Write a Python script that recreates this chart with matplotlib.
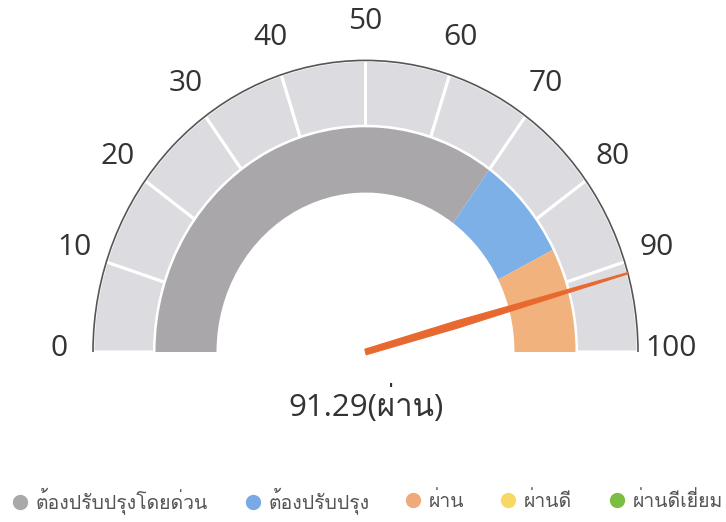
import numpy as np
import matplotlib
matplotlib.use("Agg")
import matplotlib.pyplot as plt
from matplotlib.patches import Wedge, Arc, Polygon
from matplotlib.lines import Line2D
from matplotlib import font_manager
from matplotlib.ft2font import FT2Font

# ---------------- data ----------------
scale_min, scale_max = 0, 100
tick_values = [0, 10, 20, 30, 40, 50, 60, 70, 80, 90, 100]
band_starts = [0, 70, 85]
band_ends = [70, 85, 100]
band_colors = ["#a9a7a9", "#7eb0e8", "#f2b27e"]
score = 91.29
score_label = "ผ่าน"
legend_labels = ["ต้องปรับปรุงโดยด่วน", "ต้องปรับปรุง", "ผ่าน", "ผ่านดี", "ผ่านดีเยี่ยม"]
legend_colors = ["#a9a9a9", "#78aae6", "#f0aa7a", "#f6d864", "#7cbd42"]

# layout (pixel x of each legend marker centre)
legend_marker_x_px = [20, 253, 413, 508, 617]

# ---------------- fonts ----------------
thai_font = None
for f in font_manager.fontManager.ttflist:
    try:
        cm = FT2Font(f.fname).get_charmap()
    except Exception:
        continue
    if 0x0E1C in cm and 0x0E48 in cm:
        thai_font = f.name
        break
families = ["Open Sans"] + ([thai_font] if thai_font else []) + ["DejaVu Sans"]
plt.rcParams["font.family"] = families

# ---------------- geometry ----------------
W, H, DPI = 726, 522, 100
cx_px, cy_px = 365.5, 352.0
yscale = 1.07
R_out, R_mid, R_in_out, R_in_in = 272.5, 212.0, 210.0, 149.0

def ang(v):
    return 180.0 - 180.0 * (v - scale_min) / (scale_max - scale_min)

fig = plt.figure(figsize=(W / DPI, H / DPI), dpi=DPI)
ax = fig.add_axes([0, 0, 1, 1])
ax.set_xlim(-cx_px, W - cx_px)
ax.set_ylim(-(H - cy_px) / yscale, cy_px / yscale)
ax.set_aspect("auto")
ax.axis("off")

# outer light segments
for a, b in zip(tick_values[:-1], tick_values[1:]):
    ax.add_patch(Wedge((0, 0), R_out, ang(b), ang(a), width=R_out - R_mid + 1,
                       facecolor="#dcdbdf", edgecolor="white", linewidth=2.2, zorder=2))
# outer edge
ax.add_patch(Arc((0, 0), 2 * R_out, 2 * R_out, theta1=0, theta2=180,
                 color="#555555", linewidth=1.2, zorder=3))

# inner coloured bands
for s, e, c in zip(band_starts, band_ends, band_colors):
    ax.add_patch(Wedge((0, 0), R_in_out, ang(e), ang(s), width=R_in_out - R_in_in,
                       facecolor=c, edgecolor="none", zorder=2))

# tick labels
R_lab = 306
for t in tick_values:
    th = np.radians(ang(t))
    ax.text(R_lab * np.cos(th), R_lab * np.sin(th) + 3, str(t), ha="center", va="center",
            fontsize=21.5, color="#333333", zorder=4)

# needle (tapered)
th = np.radians(ang(score))
L = R_out
ux, uy = np.cos(th), np.sin(th)
px, py = -uy, ux
base_w, mid_w, tip_w = 2.7, 3.4, 0.6
pts = [(px * base_w, py * base_w),
       (0.35 * L * ux + px * mid_w, 0.35 * L * uy + py * mid_w),
       (L * ux + px * tip_w, L * uy + py * tip_w),
       (L * ux - px * tip_w, L * uy - py * tip_w),
       (0.35 * L * ux - px * mid_w, 0.35 * L * uy - py * mid_w),
       (-px * base_w, -py * base_w)]
ax.add_patch(Polygon(pts, closed=True, facecolor="#e8692f", edgecolor="#e8692f",
                     linewidth=0.8, joinstyle="round", zorder=5))

# centre value
ax.text(0, -(404 - cy_px) / yscale, f"{score:.2f}({score_label})", ha="center", va="center",
        fontsize=22.5, color="#333333", zorder=4)

# legend (one entry per legend box so each sits at its own x)
leg_fs = 14
handle_len = 1.0
handle_px = handle_len * leg_fs * DPI / 72
for lab, col, mx in zip(legend_labels, legend_colors, legend_marker_x_px):
    h = Line2D([], [], marker="o", linestyle="none", markersize=10,
               markerfacecolor=col, markeredgecolor=col)
    lg = fig.legend([h], [lab], loc="center left",
                    bbox_to_anchor=((mx - handle_px / 2) / W, 1 - 501 / H),
                    frameon=False, fontsize=leg_fs, labelcolor="#555555",
                    handletextpad=0.3, handlelength=handle_len,
                    borderpad=0, borderaxespad=0)

fig.savefig("out.png", dpi=DPI, facecolor="white")
